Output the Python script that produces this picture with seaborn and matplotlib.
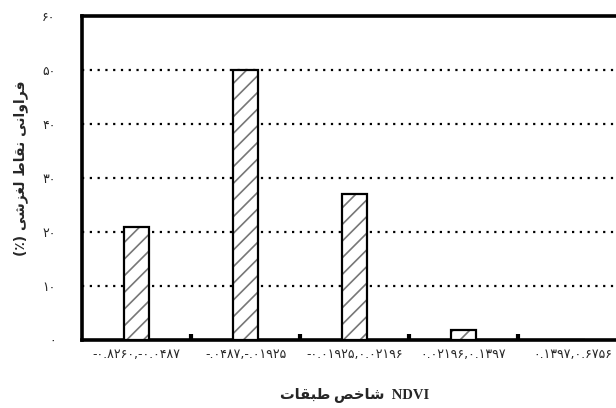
import matplotlib
matplotlib.use('Agg')
import matplotlib.pyplot as plt
import seaborn as sns
import pandas as pd

# NDVI classes (Persian digits, as printed on the chart)
classes = [
    "-۰.۸۲۶۰,-۰.۰۴۸۷",
    "-.۰۴۸۷,-.۰۱۹۲۵",
    "-۰.۰۱۹۲۵,۰.۰۲۱۹۶",
    "۰.۰۲۱۹۶,۰.۱۳۹۷",
    "۰.۱۳۹۷,۰.۶۷۵۶",
]
frequency = [21, 50, 27, 1.8, 0]

y_ticks = [0, 10, 20, 30, 40, 50, 60]
y_tick_labels = ["۰", "۱۰", "۲۰", "۳۰", "۴۰", "۵۰", "۶۰"]

# Persian labels written in shaped presentation forms (visual order)
y_label = ("(\u066A) "
           "\uFEF0\uFEB7\uFEB0\uFED0\uFEDF "
           "\uFEC1\uFE8E\uFED8\uFEE7 "
           "\uFEF0\uFEE7\uFE8D\uFEED\uFE8D\uFEAE\uFED3")
x_label = "\uFE95\uFE8E\uFED8\uFE92\uFEC3 \uFEBA\uFEA7\uFE8E\uFEB7  NDVI"

df = pd.DataFrame({"class": classes, "freq": frequency})

sns.set_style("white")
plt.rcParams['font.family'] = ['DejaVu Sans']
plt.rcParams['hatch.linewidth'] = 1.2

fig = plt.figure(figsize=(6.16, 4.08), dpi=100)
ax = fig.add_axes([82 / 616, 68 / 408, 545 / 616, 324 / 408])

# hatched fill (gray hatch), then black outline on top
sns.barplot(data=df, x="class", y="freq", color="white", edgecolor="#777777",
            linewidth=0, hatch="//", width=0.23, ax=ax, zorder=3)
sns.barplot(data=df, x="class", y="freq", facecolor="none", edgecolor="black",
            linewidth=1.6, width=0.23, ax=ax, zorder=4)

ax.set_ylim(0, 60)
ax.set_xlim(-0.5, 4.5)
ax.set_yticks(y_ticks)
ax.set_yticklabels(y_tick_labels, fontsize=9)
for y in y_ticks[1:-1]:
    ax.axhline(y, color="black", linestyle=(0, (1, 2.5)), linewidth=1.6, zorder=1)

ax.tick_params(axis="y", length=0, pad=19)
ax.tick_params(axis="x", which="major", length=0, pad=6, labelsize=9)
ax.set_xticks([0.5, 1.5, 2.5, 3.5], minor=True)
ax.tick_params(axis="x", which="minor", bottom=True, direction="in",
               length=4, width=3, color="black")

for side in ["left", "bottom", "top"]:
    ax.spines[side].set_visible(True)
    ax.spines[side].set_color("black")
    ax.spines[side].set_linewidth(2.6)
ax.spines["right"].set_visible(False)

ax.set_ylabel(y_label, fontsize=10, fontweight="bold")
ax.yaxis.set_label_coords(-(82 - 28) / 545, 0.53)
ax.set_xlabel(x_label, fontsize=10.5, fontweight="bold",
              family=['Liberation Serif', 'DejaVu Sans'])
ax.xaxis.set_label_coords(0.501, -0.145)

fig.savefig("out.png", dpi=100)
